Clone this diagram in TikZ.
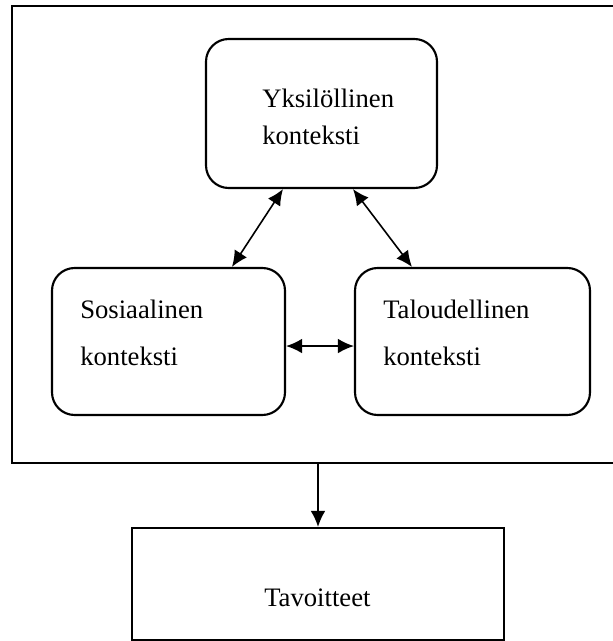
\documentclass[tikz,border=0pt]{standalone}
\usepackage{fontspec}
\setmainfont{Liberation Serif}
\usetikzlibrary{arrows.meta}
\tikzset{
  ctxbox/.style={draw, line width=1.6pt, rounded corners=17pt, inner sep=0pt},
  plainbox/.style={draw, line width=1.6pt, inner sep=0pt},
  lbl/.style={anchor=base west, align=left, inner sep=0pt, font=\fontsize{20}{28}\selectfont},
  link/.style={{Latex[length=12pt,width=11pt]}-{Latex[length=12pt,width=11pt]}, line width=1.2pt},
  down/.style={-{Latex[length=12pt,width=11pt]}, line width=1.2pt},
}

\begin{document}
\begin{tikzpicture}[x=0.75pt,y=-0.75pt]
\useasboundingbox (0,0) rectangle (612,641);
% Frame round the three contexts
\node[plainbox, minimum width=451.5pt, minimum height=342.75pt] (frame) at (313,234.5) {};
% Contexts
\node[ctxbox, minimum width=173.25pt, minimum height=111.75pt] (yks) at (321.5,113.5) {};
\node[ctxbox, minimum width=174.75pt, minimum height=110.25pt] (sos) at (168.5,341.5) {};
\node[ctxbox, minimum width=176.25pt, minimum height=110.25pt] (tal) at (472.5,341.5) {};
\node[lbl] (yksT) at (262,145) {Yksilöllinen\\konteksti};
\node[lbl] (sosT) at (80,365) {Sosiaalinen\\[7pt]konteksti};
\node[lbl] (talT) at (383,365) {Taloudellinen\\[7pt]konteksti};
% Goals
\node[plainbox, minimum width=279pt, minimum height=84pt] (tav) at (318,584) {};
\node[lbl] (tavT) at (264,606) {Tavoitteet};
% Links
\draw[link] ([xshift=-28.9pt]yks.south) -- ([xshift=47.6pt]sos.north);
\draw[link] ([xshift=23.6pt]yks.south) -- ([xshift=-45.4pt]tal.north);
\draw[link] ([yshift=-3.4pt]sos.east) -- ([yshift=-3.4pt]tal.west);
\draw[down] (tav.north |- frame.south) -- (tav.north);
\end{tikzpicture}
\end{document}
